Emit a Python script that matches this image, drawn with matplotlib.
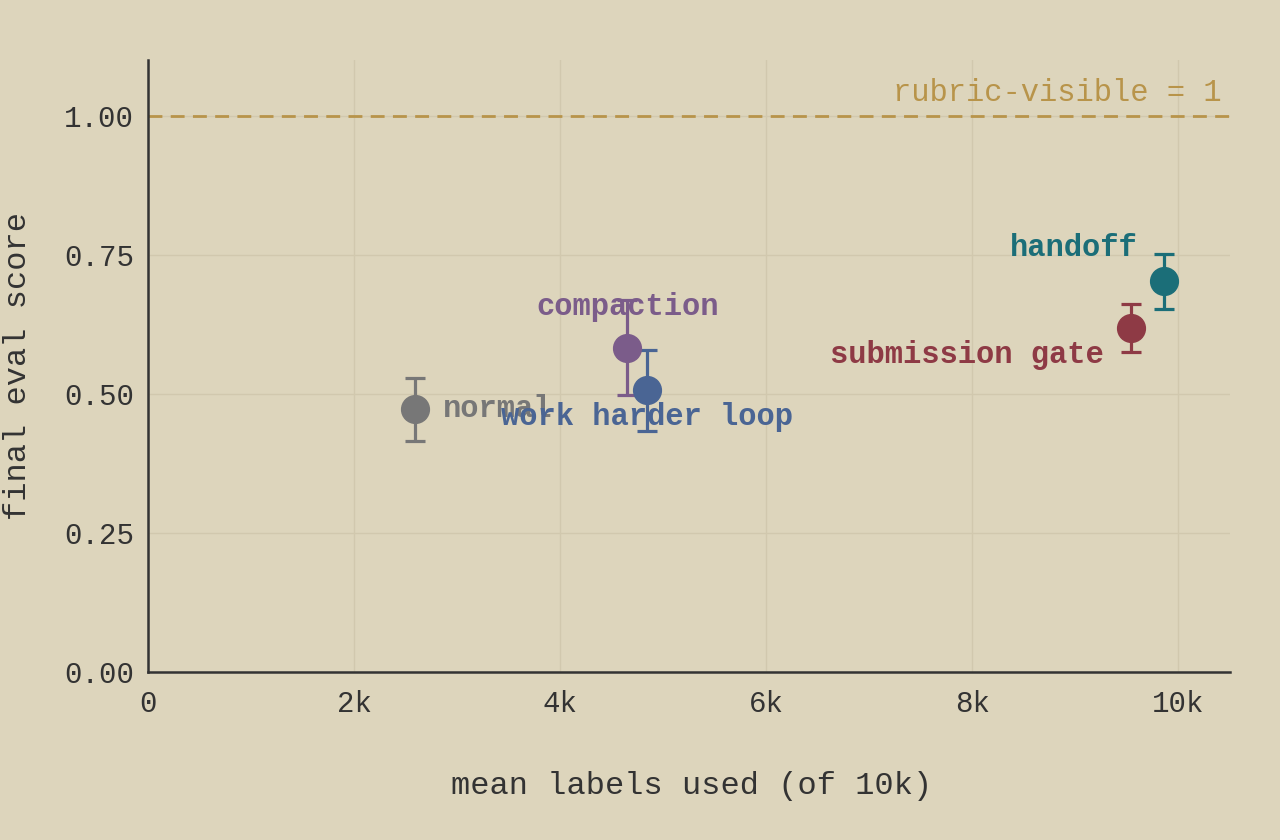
import matplotlib
matplotlib.use("Agg")
import matplotlib.pyplot as plt
from matplotlib.ticker import FuncFormatter

# values
names = ["normal", "compaction", "work harder loop", "submission gate", "handoff"]
labels_used = [2590, 4650, 4845, 9535, 9855]
scores = [0.472, 0.583, 0.506, 0.618, 0.702]
errs = [0.056, 0.085, 0.073, 0.043, 0.050]
colors = ["#777777", "#7b5c8a", "#4a6594", "#8e3a45", "#1b6e78"]
# label offsets in points, plus alignment
offsets = [(20, 0), (0, 29), (0, -19), (-19, -19), (-19, 24)]
aligns = ["left", "center", "center", "right", "right"]

x_ticks = [0, 2000, 4000, 6000, 8000, 10000]
y_ticks = [0.0, 0.25, 0.5, 0.75, 1.0]
rubric_level = 1.0

bg = "#ddd5bc"
grid_col = "#d1c8ae"
axis_col = "#333333"
rubric_col = "#b8944a"

plt.rcParams["font.family"] = ["Liberation Mono", "DejaVu Sans Mono"]

fig = plt.figure(figsize=(12.8, 8.4), dpi=100, facecolor=bg)
ax = fig.add_axes([148 / 1280, 1 - 672 / 840, 1082 / 1280, 612 / 840])
ax.set_facecolor(bg)

ax.set_xlim(0, 10500)
ax.set_ylim(0, 1.1)
ax.set_xticks(x_ticks)
ax.set_yticks(y_ticks)
ax.xaxis.set_major_formatter(FuncFormatter(lambda v, p: "0" if v == 0 else f"{int(v / 1000)}k"))
ax.yaxis.set_major_formatter(FuncFormatter(lambda v, p: f"{v:.2f}"))
ax.grid(True, color=grid_col, linewidth=1.0)
ax.set_axisbelow(True)
ax.tick_params(length=0, labelsize=21, colors=axis_col, pad=10)
ax.tick_params(axis="x", pad=13)

for side in ["top", "right"]:
    ax.spines[side].set_visible(False)
for side in ["left", "bottom"]:
    ax.spines[side].set_color(axis_col)
    ax.spines[side].set_linewidth(1.8)

ax.axhline(rubric_level, color=rubric_col, linestyle=(0, (5, 3)), linewidth=2.0, zorder=1)
ax.text(0.992, rubric_level + 0.04, "rubric-visible = 1", transform=ax.get_yaxis_transform(),
        ha="right", va="center", color=rubric_col, fontsize=22)

for i in range(len(names)):
    ax.errorbar(labels_used[i], scores[i], yerr=errs[i], fmt="o", color=colors[i],
                markersize=20, elinewidth=2.3, capsize=7, capthick=2.3, zorder=3)
    ax.annotate(names[i], (labels_used[i], scores[i]), xytext=offsets[i],
                textcoords="offset points", ha=aligns[i], va="center",
                color=colors[i], fontsize=22, fontweight="bold", zorder=4)

ax.set_xlabel("mean labels used (of 10k)", fontsize=23, color=axis_col)
ax.set_ylabel("final eval score", fontsize=23, color=axis_col)
ax.xaxis.label.set_va("center")
ax.yaxis.label.set_va("center")
ax.xaxis.set_label_coords(544 / 1082, -(786 - 672) / 612)
ax.yaxis.set_label_coords(-(148 - 18) / 1082, (672 - 366) / 612)

fig.savefig("out.png", dpi=100, facecolor=bg)
